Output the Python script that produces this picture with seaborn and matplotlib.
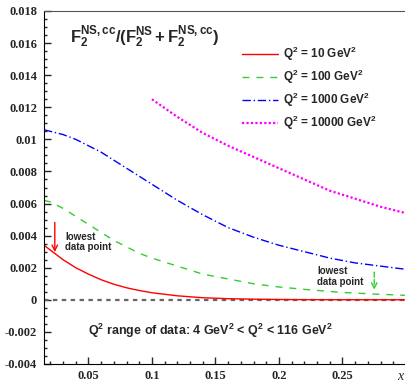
import pandas as pd
import matplotlib
matplotlib.use('Agg')
import matplotlib.pyplot as plt
import seaborn as sns
from matplotlib.ticker import MultipleLocator, FuncFormatter

# Data
x_low = [0.015, 0.02, 0.03, 0.04, 0.05, 0.06, 0.07, 0.08, 0.09, 0.1, 0.12, 0.14, 0.16, 0.18, 0.2, 0.22, 0.25, 0.275, 0.3]
q10 = [0.0034, 0.0031, 0.0025, 0.0020, 0.0016, 0.00125, 0.00097, 0.00075, 0.00058, 0.00044, 0.00025, 0.00013,
       0.00007, 0.00004, 0.00002, 0.00001, 0.000005, 0.000003, 0.000002]
q100 = [0.0062, 0.0061, 0.0057, 0.0052, 0.0047, 0.0042, 0.0037, 0.0033, 0.0029, 0.0026, 0.0021, 0.0016, 0.0013,
        0.0010, 0.0008, 0.00065, 0.00046, 0.00036, 0.00028]

x_blue = [0.015, 0.02, 0.03, 0.04, 0.05, 0.06, 0.07, 0.08, 0.09, 0.1, 0.12, 0.14, 0.16, 0.18, 0.2, 0.22, 0.24, 0.26,
          0.28, 0.3]
q1000 = [0.0106, 0.0105, 0.0103, 0.0100, 0.0096, 0.0092, 0.0087, 0.0082, 0.0077, 0.0072, 0.0062, 0.0053, 0.0045,
         0.0039, 0.0034, 0.0030, 0.0026, 0.0023, 0.0021, 0.0019]

x_high = [0.1, 0.12, 0.14, 0.16, 0.18, 0.2, 0.22, 0.24, 0.26, 0.28, 0.3]
q10000 = [0.0125, 0.0114, 0.0104, 0.0096, 0.0089, 0.0082, 0.0075, 0.0068, 0.0063, 0.0058, 0.0054]

labels = ['Q$^2$ = 10 GeV$^2$', 'Q$^2$ = 100 GeV$^2$', 'Q$^2$ = 1000 GeV$^2$', 'Q$^2$ = 10000 GeV$^2$']
colors = ['#ff0000', '#33cc33', '#0000ff', '#ff00ff']

# lowest data point arrows (x, top, tip)
arrow_red = (0.0235, 0.0050, 0.0028)
arrow_green = (0.275, 0.0019, 0.00045)

sns.set_style('ticks')
plt.rcParams['font.family'] = ['Liberation Sans', 'DejaVu Sans']
plt.rcParams['mathtext.fontset'] = 'custom'
plt.rcParams['mathtext.rm'] = 'Liberation Sans:bold'
plt.rcParams['mathtext.bf'] = 'Liberation Sans:bold'
plt.rcParams['mathtext.it'] = 'Liberation Sans:italic'

fig = plt.figure(figsize=(4.06, 3.84), dpi=100)
ax = fig.add_axes([44 / 406, 20 / 384, 362 / 406, 353 / 384])

df1 = pd.DataFrame({'x': x_low, 'y': q10})
df2 = pd.DataFrame({'x': x_low, 'y': q100})
df3 = pd.DataFrame({'x': x_blue, 'y': q1000})
df4 = pd.DataFrame({'x': x_high, 'y': q10000})

# zero line
ax.axhline(0, color='#666666', lw=1.6, ls=(0, (2, 2)), zorder=1)

sns.lineplot(data=df1, x='x', y='y', ax=ax, color=colors[0], lw=1.0, label=labels[0])
sns.lineplot(data=df2, x='x', y='y', ax=ax, color=colors[1], lw=1.0, ls=(0, (5, 5)), label=labels[1])
sns.lineplot(data=df3, x='x', y='y', ax=ax, color=colors[2], lw=1.0, ls=(0, (6, 2, 1, 2)), label=labels[2])
sns.lineplot(data=df4, x='x', y='y', ax=ax, color=colors[3], lw=1.6, ls=(0, (1, 1)), label=labels[3])

ax.set_xlim(0.015, 0.3)
ax.set_ylim(-0.004, 0.018)

ax.set_xticks([0.05, 0.1, 0.15, 0.2, 0.25])
ax.xaxis.set_minor_locator(MultipleLocator(0.01))
ax.yaxis.set_major_locator(MultipleLocator(0.002))
ax.yaxis.set_minor_locator(MultipleLocator(0.0005))
fmt = FuncFormatter(lambda v, p: '%g' % round(v, 4))
ax.xaxis.set_major_formatter(fmt)
ax.yaxis.set_major_formatter(fmt)
ax.tick_params(which='both', direction='in', top=False, right=False)
ax.tick_params(which='major', length=5, width=1)
ax.tick_params(which='minor', length=2.5, width=1)
ax.tick_params(axis='y', pad=5)
ax.tick_params(axis='x', pad=4)
for lab in ax.get_xticklabels() + ax.get_yticklabels():
    lab.set_family('Liberation Serif')
    lab.set_weight('bold')
    lab.set_fontsize(9)

ax.spines['right'].set_visible(False)
ax.spines['top'].set_color('#555555')
ax.spines['left'].set_color('black')
ax.spines['bottom'].set_color('black')

ax.set_ylabel('')
ax.set_xlabel('x', fontfamily='Liberation Serif', style='italic', fontsize=10)
ax.xaxis.set_label_coords(0.985, -0.018)

# title formula
ax.text(0.072, 0.926, r'$\mathbf{F_2^{NS,cc}/(F_2^{NS}+F_2^{NS,cc})}$', transform=ax.transAxes,
        fontsize=12, ha='left', va='center')

# legend
ax.legend(loc='upper left', bbox_to_anchor=(0.518, 0.935), frameon=False, handlelength=3.0,
          handletextpad=0.5, labelspacing=0.42, prop={'weight': 'bold', 'size': 8.5})

# arrows and notes
ax.annotate('', xy=(arrow_red[0], arrow_red[2]), xytext=(arrow_red[0], arrow_red[1]),
            arrowprops=dict(arrowstyle='->', color='red', lw=1.0))
ax.text(0.0315, 0.0036, 'lowest\ndata point', fontsize=7, weight='bold', ha='left', va='center',
        linespacing=1.1)
ax.annotate('', xy=(arrow_green[0], arrow_green[2]), xytext=(arrow_green[0], arrow_green[1]),
            arrowprops=dict(arrowstyle='->', color=colors[1], lw=1.0, ls='--'))
ax.text(0.230, 0.00143, 'lowest\ndata point', fontsize=7, weight='bold', ha='left', va='center',
        linespacing=1.1)

ax.text(0.1215, 0.0935, 'Q$^2$ range of data: 4 GeV$^2$ < Q$^2$ < 116 GeV$^2$', transform=ax.transAxes,
        fontsize=9, weight='bold', ha='left', va='center')

plt.savefig('out.png', dpi=100)
